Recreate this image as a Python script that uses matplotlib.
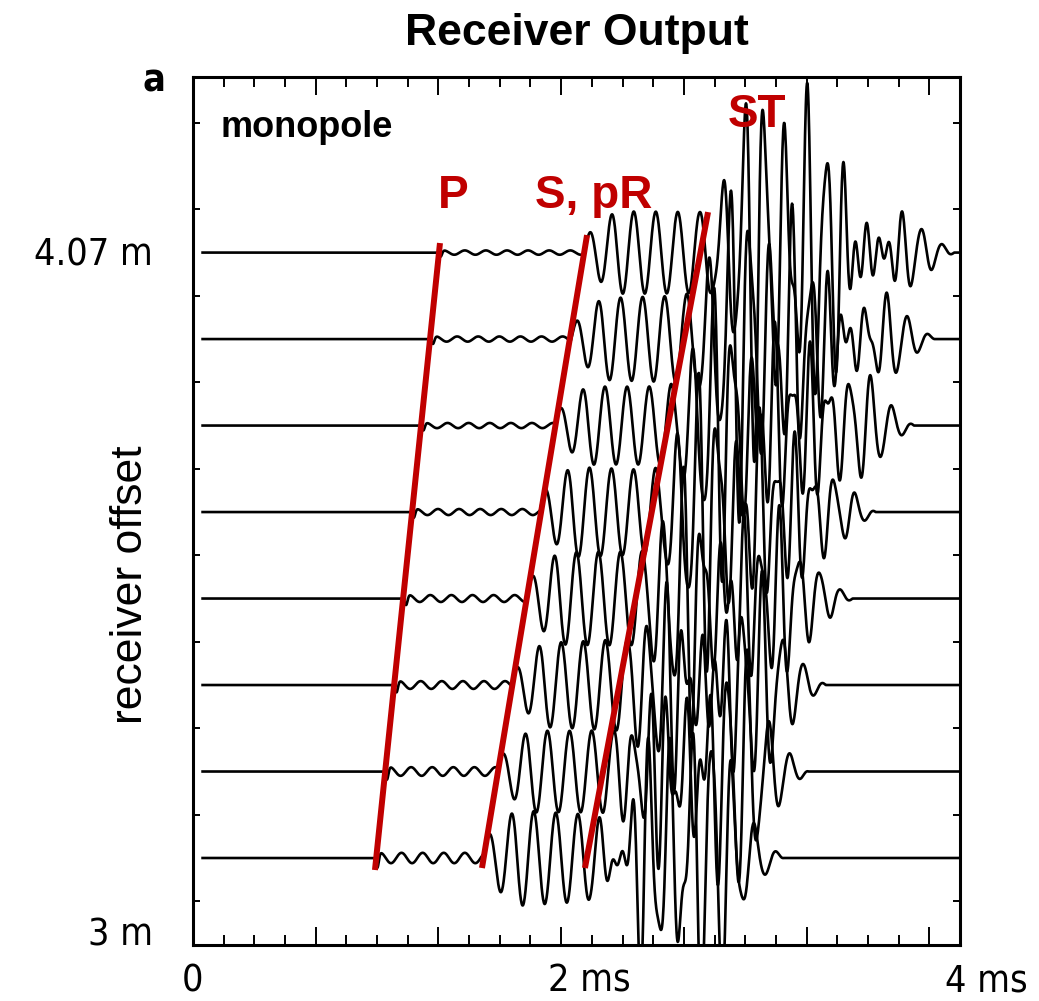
import numpy as np
import matplotlib
matplotlib.use("Agg")
import matplotlib.pyplot as plt
from matplotlib.ticker import FixedLocator
from matplotlib import font_manager as fm

# ---------------- data ----------------
offset_labels = ["4.07 m", "3 m"]
offset_label_pos = [6.855, -1.006]          # baseline positions (trace units)
time_labels = ["0", "2 ms", "4 ms"]
time_label_pos = [0.0, 2.0, 4.0]

trace_pos = [7, 6, 5, 4, 3, 2, 1, 0]          # top (4.07 m) -> bottom
p_arrival = [1.28, 1.24, 1.19, 1.14, 1.10, 1.05, 1.00, 0.95]
s_arrival = [2.04, 1.97, 1.89, 1.81, 1.74, 1.66, 1.59, 1.52]
st_arrival = [2.64, 2.56, 2.47, 2.39, 2.31, 2.22, 2.14, 2.05]
st_peak = [3.19, 3.08, 2.98, 2.88, 2.78, 2.68, 2.58, 2.48]
wave_end = [3.97, 3.87, 3.76, 3.56, 3.44, 3.30, 3.21, 3.08]
p_amp = [0.025, 0.03, 0.03, 0.035, 0.04, 0.045, 0.05, 0.06]
s_amp = [0.45, 0.48, 0.48, 0.50, 0.50, 0.52, 0.52, 0.55]
st_amp = [1.7, 1.5, 1.45, 1.45, 1.45, 1.4, 1.4, 1.45]
p_period, s_period = 0.11, 0.115
st_periods = [0.105, 0.062, 0.083]
st_weights = [0.7, 0.3, 0.25]

# picked arrival lines (ms, trace units)
pick_names = ["P", "S, pR", "ST"]
pick_t0 = [1.288, 2.055, 2.686]
pick_y0 = [7.110, 7.202, 7.468]
pick_t1 = [0.949, 1.507, 2.044]
pick_y1 = [-0.139, -0.116, -0.116]
pick_label_t = [1.278, 1.784, 2.790]
pick_label_y = [7.514, 7.514, 8.451]

# ---------------- figure ----------------
W, H = 1039, 1001
fig = plt.figure(figsize=(W / 100, H / 100), dpi=100)
ax = fig.add_axes([193 / W, 1 - 945 / H, (960 - 193) / W, (945 - 77) / H])
ax.set_xlim(0, 4)
ax.set_ylim(-1.006, 9.03)

avail = {f.name for f in fm.fontManager.ttflist}
narrow = "Liberation Sans Narrow" if "Liberation Sans Narrow" in avail else "DejaVu Sans"
narrow_kw = {"family": narrow}
if narrow == "DejaVu Sans":
    narrow_kw["stretch"] = "condensed"

t = np.arange(0.05, 4.0, 0.002)
red = "#C00000"


def ramp(x):
    return np.clip(x, 0, 1)


for i, y0 in enumerate(trace_pos):
    p, s, st, pk, e = p_arrival[i], s_arrival[i], st_arrival[i], st_peak[i], wave_end[i]
    fall = ramp((e - t) / 0.28)
    sig = np.zeros_like(t)
    onp = (t >= p)
    sig += onp * p_amp[i] * np.sin(2 * np.pi * (t - p) / p_period) * fall
    sig += -2.5 * p_amp[i] * np.exp(-((t - p - 0.012) / 0.01) ** 2)
    ons = (t >= s)
    sig += ons * s_amp[i] * ramp(0.35 + (t - s) / 0.25) * fall * np.sin(2 * np.pi * (t - s) / s_period)
    env = np.where(t < pk, ramp((t - st) / 0.3) ** 1.3, np.exp(-((t - pk) / 0.45) ** 2))
    env = env * ramp((e - 0.08 - t) / 0.25)
    mix = sum(w * np.sin(2 * np.pi * (t - st) / per + ph)
              for w, per, ph in zip(st_weights, st_periods, [0.0, 1.0, 2.0]))
    sig += st_amp[i] * env * mix
    ax.plot(t, y0 + sig, color="black", lw=1.9)

for k in range(3):
    ax.plot([pick_t0[k], pick_t1[k]], [pick_y0[k], pick_y1[k]], color=red, lw=4.3,
            solid_capstyle="butt", zorder=5)
    ax.text(pick_label_t[k], pick_label_y[k], pick_names[k], color=red, fontsize=33,
            fontweight="bold", family="Liberation Sans", ha="left", va="baseline", zorder=6)

ax.text(0.141, 8.335, "monopole", fontsize=26, fontweight="bold", family="Liberation Sans",
        ha="left", va="baseline")

# spines & ticks
for sp in ax.spines.values():
    sp.set_linewidth(2.2)
ax.xaxis.set_major_locator(FixedLocator(np.arange(0, 4.0, 0.64)))
ax.xaxis.set_minor_locator(FixedLocator(np.arange(0, 4.01, 0.16)))
ax.yaxis.set_major_locator(FixedLocator(np.arange(-0.5, 9.0, 1.0)))
ax.tick_params(which="both", direction="in", top=True, right=True, labelbottom=False,
               labelleft=False, width=1.4)
ax.tick_params(axis="x", which="major", length=13)
ax.tick_params(axis="x", which="minor", length=7)
ax.tick_params(axis="y", which="major", length=5)

# axis labels as text
xoff = [0, 13, 26]
for lab, pos, o in zip(time_labels, time_label_pos, xoff):
    xp = 193 + pos * (960 - 193) / 4 + o
    fig.text(xp / W, 1 - 1000 / H, lab, fontsize=27, ha="center", va="bottom", **narrow_kw)
for lab, pos in zip(offset_labels, offset_label_pos):
    yp = 858 - pos * 86.49
    fig.text(153 / W, 1 - yp / H, lab, fontsize=27, ha="right", va="baseline", **narrow_kw)

fig.text(130 / W, 1 - 585 / H, "receiver offset", rotation=90, fontsize=32,
         family="Liberation Sans", ha="center", va="center")
fig.text(143 / W, 1 - 92 / H, "a", fontsize=27, fontweight="bold", ha="left", va="baseline",
         **narrow_kw)
fig.text(577 / W, 1 - 45 / H, "Receiver Output", fontsize=32, fontweight="bold",
         family="Liberation Sans", ha="center", va="baseline")

fig.savefig("out.png", dpi=100)
